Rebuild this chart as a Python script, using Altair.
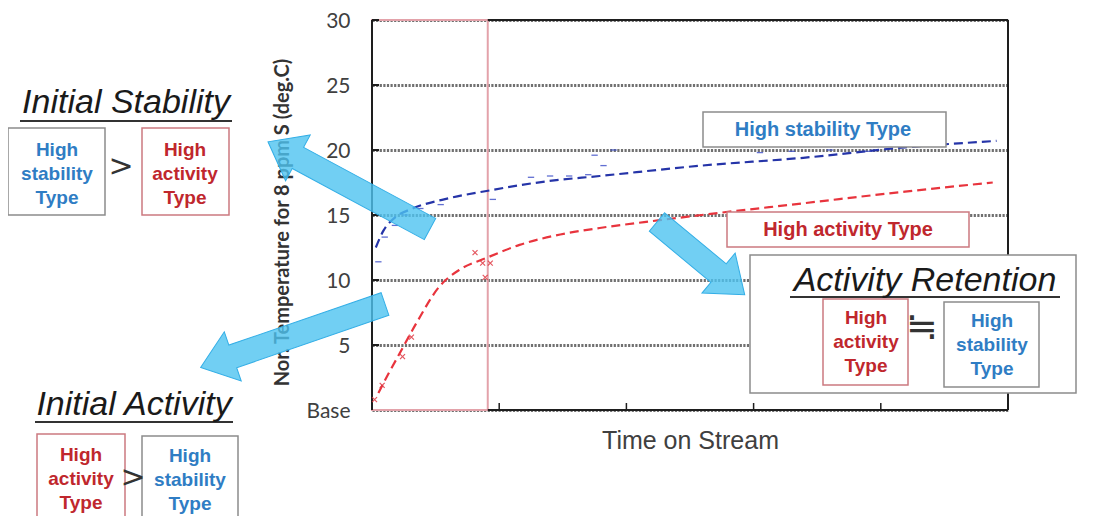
import altair as alt
import pandas as pd

# ---------------- data ----------------
# fitted trend, High stability type
hs_time = [0.03, 0.09, 0.18, 0.32, 0.61, 0.93, 1.38, 1.79, 2.59, 3.39, 4.19, 4.91]
hs_temp = [12.5, 13.8, 14.8, 15.5, 16.3, 16.9, 17.6, 18.0, 18.8, 19.4, 20.2, 20.7]
# fitted trend, High activity type
ha_time = [0.05, 0.13, 0.22, 0.35, 0.53, 0.69, 0.90, 1.16, 1.48, 1.79, 2.26, 2.59, 3.39, 4.19, 4.88]
ha_temp = [1.3, 2.8, 4.4, 6.7, 9.5, 10.8, 11.7, 12.7, 13.5, 14.0, 14.6, 15.0, 15.9, 16.8, 17.5]
# measured points, High stability type
hs_pt_time = [0.05, 0.10, 0.18, 0.26, 0.38, 0.54, 0.95, 1.25, 1.40, 1.55, 1.70, 1.75, 1.82, 1.90, 3.05, 3.30, 3.60, 3.90]
hs_pt_temp = [11.4, 13.3, 14.2, 15.0, 15.5, 15.8, 16.2, 17.9, 18.0, 18.0, 18.1, 19.6, 18.8, 20.0, 19.8, 19.9, 20.0, 19.9]
# measured points, High activity type
ha_pt_time = [0.02, 0.08, 0.24, 0.31, 0.81, 0.87, 0.93, 0.89]
ha_pt_temp = [0.8, 1.9, 4.1, 5.6, 12.1, 11.3, 11.3, 10.2]

y_ticks = [0, 5, 10, 15, 20, 25, 30]
x_ticks = [1, 2, 3, 4, 5]
initial_window = [0.0, 0.91]

BLUE_T = "#2F7DC4"
RED_T = "#C0272D"
GRAY_B = "#8C8C8C"
RED_B = "#CC7A80"
ARROW = "#4EC3F0"

# page pixel -> plot pixel (plot origin on the page)
OX, OY = 372, 20

xs = alt.Scale(domain=[0, 5], nice=False, zero=False)
ys = alt.Scale(domain=[0, 30], nice=False, zero=False)
xaxis = alt.Axis(labels=False, ticks=False, domain=False, grid=False,
                 title="Time on Stream", titleFont="Liberation Sans", titleFontSize=25,
                 titleFontWeight="normal", titleColor="#404040",
                 titleBaseline="alphabetic", titleY=38)
yaxis = alt.Axis(values=y_ticks, labelExpr="datum.value == 0 ? 'Base' : datum.label",
                 grid=True, gridColor="#707070", gridDash=[2.2, 1.4], gridWidth=3,
                 domain=False, ticks=False, labelFont="Lato", labelFontSize=21,
                 labelOffset=1,
                 labelColor="#404040", labelPadding=22,
                 title="Nor. Temperature for 8 ppm S (deg.C)", titleFont="Lato",
                 titleFontWeight="bold", titleFontSize=20, titleColor="#333333",
                 titleAngle=270, titleX=-80, titleY=202, titleAlign="center",
                 titleBaseline="bottom")

def X(f):
    return alt.X(f"{f}:Q", scale=xs, axis=xaxis)

def Y(f):
    return alt.Y(f"{f}:Q", scale=ys, axis=yaxis)

def PX(f):
    return alt.X(f"{f}:Q", scale=None, axis=None)

def PY(f):
    return alt.Y(f"{f}:Q", scale=None, axis=None)

# pink initial-period window
pink = alt.Chart(pd.DataFrame({"t": [initial_window[0]], "t2": [initial_window[1]],
                               "v": [0], "v2": [30]})).mark_rect(
    fillOpacity=0, stroke="#E3A2AA", strokeWidth=2).encode(
    x=X("t"), x2="t2", y=Y("v"), y2="v2")

frame_df = pd.DataFrame({
    "t": [initial_window[1], initial_window[1], 5, 0],
    "t2": [5, 5, 5, 0],
    "v": [0, 30, 0, 0],
    "v2": [0, 30, 30, 30],
})
frame = alt.Chart(frame_df).mark_rule(color="#1e1e1e", strokeWidth=2).encode(
    x=X("t"), x2="t2", y=Y("v"), y2="v2")

ytick = alt.Chart(pd.DataFrame({"v": y_ticks[1:]})).mark_rule(
    color="#1e1e1e", strokeWidth=2).encode(
    y=Y("v"), x=alt.value(0), x2=alt.value(7))
xtick = alt.Chart(pd.DataFrame({"t": x_ticks})).mark_rule(
    color="#1e1e1e", strokeWidth=1.5).encode(
    x=X("t"), y=alt.value(390), y2=alt.value(383))

hs_line = alt.Chart(pd.DataFrame({"t": hs_time, "v": hs_temp})).mark_line(
    color="#2534A8", strokeWidth=2.2, strokeDash=[9, 5], interpolate="monotone").encode(
    x=X("t"), y=Y("v"))
ha_line = alt.Chart(pd.DataFrame({"t": ha_time, "v": ha_temp})).mark_line(
    color="#E8343D", strokeWidth=2.2, strokeDash=[9, 5], interpolate="monotone").encode(
    x=X("t"), y=Y("v"))

hs_pts = alt.Chart(pd.DataFrame({"t": hs_pt_time, "v": hs_pt_temp})).mark_point(
    shape="stroke", size=40, color="#3A4CC8", strokeWidth=1.3, opacity=0.8).encode(
    x=X("t"), y=Y("v"))
ha_pts = alt.Chart(pd.DataFrame({"t": ha_pt_time, "v": ha_pt_temp})).mark_point(
    shape="M-1,-1L1,1M-1,1L1,-1", size=25, color="#E03A44", strokeWidth=1.2,
    filled=False, opacity=0.85).encode(x=X("t"), y=Y("v"))

# arrows: tail position (page px), length, direction (degrees clockwise from up)
arrow_tail_x = [430, 385, 657]
arrow_tail_y = [229, 304, 222]
arrow_len = [184, 195, 114]
arrow_ang = [298.3, 251.0, 129.7]

def arrow_path(L, w=12, hw=26, hl=34):
    b = L - hl
    return (f"M{-w},0L{-w},{-b}L{-hw},{-b}L0,{-L}L{hw},{-b}L{w},{-b}L{w},0Z")

arrows_df = pd.DataFrame({
    "x": [a - OX for a in arrow_tail_x],
    "y": [a - OY for a in arrow_tail_y],
    "shape": [arrow_path(L) for L in arrow_len],
    "ang": arrow_ang,
})
arrows = alt.Chart(arrows_df).mark_point(
    filled=True, fill=ARROW, fillOpacity=0.8, stroke="#33AEE6", strokeWidth=1,
    size=4).encode(
    x=PX("x"), y=PY("y"),
    shape=alt.Shape("shape:N", scale=None, legend=None),
    angle=alt.Angle("ang:Q", scale=None))

# annotation boxes (page px)
box_x1 = [703, 727, 750, 823, 944, 8, 142, 37, 142]
box_y1 = [112, 212, 255, 299, 302, 128, 128, 434, 436]
box_x2 = [946, 969, 1076, 908, 1039, 105, 229, 125, 238]
box_y2 = [147, 247, 393, 385, 387, 215, 215, 530, 530]
box_col = [GRAY_B, RED_B, GRAY_B, RED_B, GRAY_B, GRAY_B, RED_B, RED_B, GRAY_B]
boxes_df = pd.DataFrame({
    "x": [v - OX for v in box_x1], "x2": [v - OX for v in box_x2],
    "y": [v - OY for v in box_y1], "y2": [v - OY for v in box_y2],
    "c": box_col,
})
boxes = alt.Chart(boxes_df).mark_rect(fill="white", strokeWidth=1.5).encode(
    x=PX("x"), x2="x2", y=PY("y"), y2="y2",
    stroke=alt.Stroke("c:N", scale=None, legend=None))

ul_x1 = [20, 35, 790]
ul_x2 = [232, 233, 1060]
ul_y = [121, 422, 297]
ul_df = pd.DataFrame({"x": [v - OX for v in ul_x1], "x2": [v - OX for v in ul_x2],
                      "y": [v - OY for v in ul_y]})
underlines = alt.Chart(ul_df).mark_rule(color="#333333", strokeWidth=2).encode(
    x=PX("x"), x2="x2", y=PY("y"))

# multi-line bold labels inside boxes (y = first line)
ml_text = ["High\nstability\nType", "High\nactivity\nType", "High\nactivity\nType",
           "High\nstability\nType", "High\nactivity\nType", "High\nstability\nType"]
ml_x = [57, 185, 81, 190, 866, 992]
ml_y = [150, 150, 455, 456, 318, 321]
ml_c = [BLUE_T, RED_T, RED_T, BLUE_T, RED_T, BLUE_T]
ml = alt.Chart(pd.DataFrame({"x": [v - OX for v in ml_x], "y": [v - OY for v in ml_y],
                             "text": ml_text, "c": ml_c})).mark_text(
    font="Liberation Sans", fontWeight="bold", fontSize=19, lineBreak="\n",
    lineHeight=24, align="center", baseline="middle").encode(
    x=PX("x"), y=PY("y"), text="text:N", color=alt.Color("c:N", scale=None, legend=None))

# single-line series labels
sl_text = ["High stability Type", "High activity Type"]
sl_x = [823, 848]
sl_y = [130, 230]
sl_c = [BLUE_T, RED_T]
sl = alt.Chart(pd.DataFrame({"x": [v - OX for v in sl_x], "y": [v - OY for v in sl_y],
                             "text": sl_text, "c": sl_c})).mark_text(
    font="Liberation Sans", fontWeight="bold", fontSize=20, align="center",
    baseline="middle").encode(
    x=PX("x"), y=PY("y"), text="text:N", color=alt.Color("c:N", scale=None, legend=None))

# italic headings
hd_text = ["Initial Stability", "Initial Activity", "Activity Retention"]
hd_x = [126, 134, 925]
hd_y = [113, 415, 291]
hd = alt.Chart(pd.DataFrame({"x": [v - OX for v in hd_x], "y": [v - OY for v in hd_y],
                             "text": hd_text})).mark_text(
    font="Liberation Sans", fontStyle="italic", fontSize=34, align="center",
    baseline="alphabetic", color="#1a1a1a").encode(
    x=PX("x"), y=PY("y"), text="text:N")

# comparison symbols
sym_text = [">", ">", "\u2252"]
sym_x = [121, 133, 922]
sym_y = [167, 478, 328]
sym_size = [30, 30, 38]
sym = alt.Chart(pd.DataFrame({"x": [v - OX for v in sym_x], "y": [v - OY for v in sym_y],
                              "text": sym_text, "s": sym_size})).mark_text(
    font="DejaVu Sans", align="center", baseline="middle",
    color="#333333").encode(x=PX("x"), y=PY("y"), text="text:N",
                            size=alt.Size("s:Q", scale=None, legend=None))

chart = alt.layer(
    pink, frame, ytick, xtick, hs_line, ha_line, hs_pts, ha_pts,
    arrows, boxes, underlines, ml, sl, hd, sym
).properties(
    width=636, height=390,
    autosize=alt.AutoSizeParams(type="none"),
    padding={"left": 364, "top": 12, "right": 70, "bottom": 106},
).configure_view(stroke=None)

chart.save("out.html", embed_options={"renderer": "svg", "actions": False})
